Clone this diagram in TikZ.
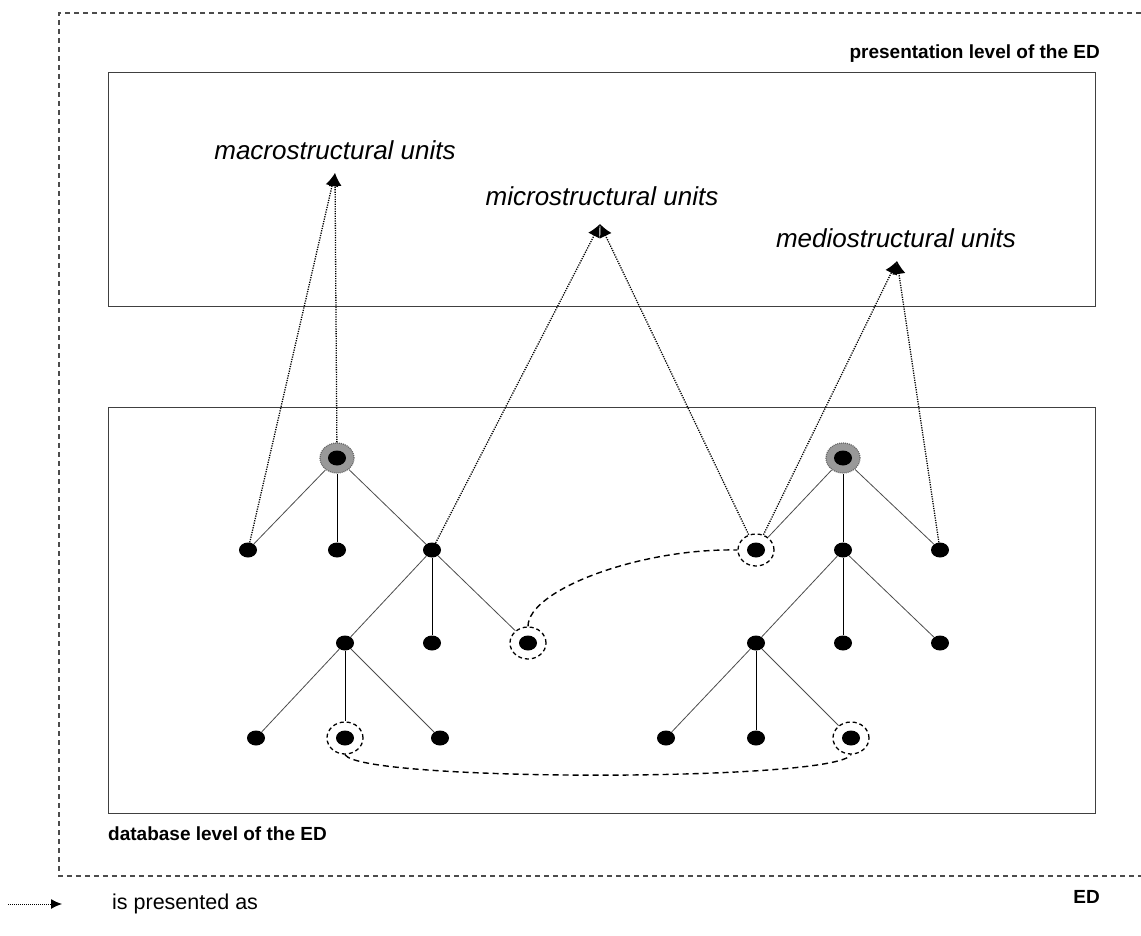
\documentclass[tikz,border=0pt]{standalone}
\usepackage{fontspec}
\setmainfont{Liberation Sans}
\usetikzlibrary{arrows.meta,shapes.geometric}
\begin{document}
\begin{tikzpicture}[x=1pt,y=-1pt,
  frame/.style={draw=black!75,line width=1pt},
  outerframe/.style={draw=black!70,line width=1.2pt,dash pattern=on 5pt off 4pt},
  dot/.style={ellipse,fill=black,inner sep=0pt,minimum width=18pt,minimum height=15pt},
  halo/.style={ellipse,fill=black!40,draw=black!60,line width=1.2pt,dash pattern=on 1pt off 1pt,inner sep=0pt,minimum width=34pt,minimum height=30pt},
  ring/.style={ellipse,draw=black,line width=1.3pt,dash pattern=on 4pt off 3pt,inner sep=0pt,minimum width=36pt,minimum height=32pt},
  edge/.style={draw=black!70,line width=0.8pt},
  vedge/.style={draw=black,line width=1pt},
  pres/.style={draw=black,line width=1.3pt,dash pattern=on 1.2pt off 1.2pt,-{Latex[length=13pt,width=13pt]}},
  link/.style={draw=black,line width=1.4pt,dash pattern=on 6pt off 4pt},
  unitlabel/.style={font=\fontsize{26}{30}\selectfont\itshape,inner sep=0pt},
  levellabel/.style={font=\fontsize{19}{22}\selectfont\bfseries,inner sep=0pt}
]
\useasboundingbox (0,0) rectangle (1141,936);

% surrounding frame of the ED (open on the right)
\draw[outerframe] (1141,13) -- (59,13) -- (59,876) -- (1141,876);
\node[levellabel,anchor=east] (edlab) at (1100,897) {ED};

% presentation level
\draw[frame] (108,73) rectangle (1095,306);
\node[levellabel,anchor=east] (preslab) at (1100,54) {presentation level of the ED};
\node[unitlabel] (macro) at (335,150) {macrostructural units};
\node[unitlabel] (micro) at (602,196) {microstructural units};
\node[unitlabel] (medio) at (896,238) {mediostructural units};
\coordinate (tmacro) at (335,173);
\coordinate (tmicro) at (600,224);
\coordinate (tmedio) at (897,261);

% database level
\draw[frame] (108,407) rectangle (1095,813);
\node[levellabel,anchor=west] (dblab) at (108,834) {database level of the ED};

% left tree
\node[halo] (h1) at (337,458) {};
\node[dot] (a) at (337,458) {};
\node[dot] (a1) at (248,550) {};
\node[dot] (a2) at (337,550) {};
\node[dot] (a3) at (432,550) {};
\node[dot] (b1) at (345,643) {};
\node[dot] (b2) at (432,643) {};
\node[dot] (b3) at (528,643) {};
\node[ring] (rb3) at (528,643) {};
\node[dot] (c1) at (256,738) {};
\node[dot] (c2) at (345,738) {};
\node[ring] (rc2) at (345,738) {};
\node[dot] (c3) at (440,738) {};

\draw[edge] (h1) -- (a1);
\draw[vedge] (h1) -- (a2);
\draw[edge] (h1) -- (a3);
\draw[edge] (a3) -- (b1);
\draw[vedge] (a3) -- (b2);
\draw[edge] (a3) -- (rb3);
\draw[edge] (b1) -- (c1);
\draw[vedge] (b1) -- (rc2);
\draw[edge] (b1) -- (c3);

% right tree
\node[halo] (h2) at (843,458) {};
\node[dot] (d) at (843,458) {};
\node[dot] (d1) at (756,550) {};
\node[ring] (rd1) at (756,550) {};
\node[dot] (d2) at (843,550) {};
\node[dot] (d3) at (940,550) {};
\node[dot] (e1) at (756,643) {};
\node[dot] (e2) at (843,643) {};
\node[dot] (e3) at (940,643) {};
\node[dot] (f1) at (666,738) {};
\node[dot] (f2) at (756,738) {};
\node[dot] (f3) at (851,738) {};
\node[ring] (rf3) at (851,738) {};

\draw[edge] (h2) -- (rd1);
\draw[vedge] (h2) -- (d2);
\draw[edge] (h2) -- (d3);
\draw[edge] (d2) -- (e1);
\draw[vedge] (d2) -- (e2);
\draw[edge] (d2) -- (e3);
\draw[edge] (e1) -- (f1);
\draw[vedge] (e1) -- (f2);
\draw[edge] (e1) -- (rf3);

% links between corresponding units
\draw[link] (rb3.north) .. controls (528,590) and (640,548) .. (rd1.west);
\draw[link] (rc2.south) .. controls (360,782) and (836,782) .. (rf3.south);

% "is presented as" relations
\draw[pres] (a1) -- (tmacro);
\draw[pres] (h1) -- (tmacro);
\draw[pres] (a3) -- (tmicro);
\draw[pres] (rd1) -- (tmicro);
\draw[pres] (rd1) -- (tmedio);
\draw[pres] (d3) -- (tmedio);

% legend
\coordinate (lega) at (8,904);
\coordinate (legb) at (62,904);
\draw[draw=black,line width=1pt,dash pattern=on 1pt off 1pt,-{Latex[length=11pt,width=10pt]}] (lega) -- (legb);
\node[anchor=west,inner sep=0pt,font=\fontsize{21.5}{24}\selectfont] (legtext) at (112,904) {is presented as};
\end{tikzpicture}
\end{document}
